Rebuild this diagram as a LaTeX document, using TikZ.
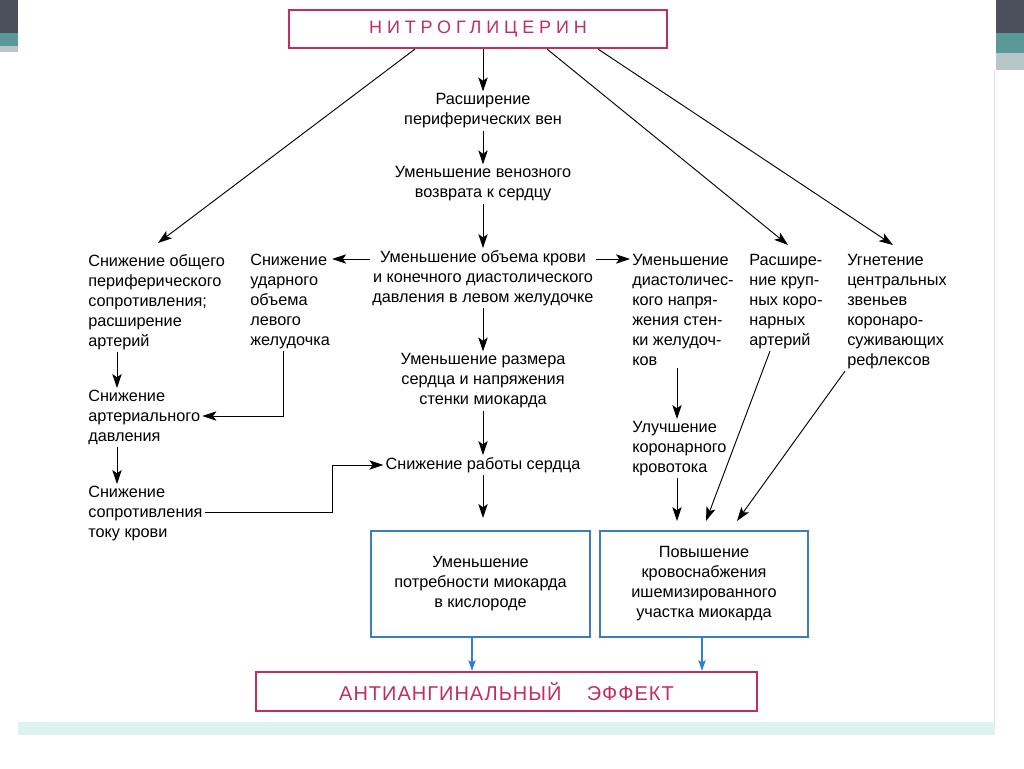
\documentclass[tikz,border=0pt]{standalone}
\usepackage{fontspec}
\setmainfont{Liberation Sans}
\usetikzlibrary{arrows.meta,calc}
\definecolor{crim}{HTML}{C42D62}
\definecolor{boxblue}{HTML}{3B7DC4}
\definecolor{arrblue}{HTML}{2E80D2}
\definecolor{decdark}{HTML}{4B505C}
\definecolor{decteal}{HTML}{5B9898}
\definecolor{declight}{HTML}{B8C6C8}
\definecolor{barcyan}{HTML}{DDF3F0}
\begin{document}
\begin{tikzpicture}[x=0.75pt,y=-0.75pt,
  font=\fontsize{12.2}{15}\selectfont,
  arr/.style={-{Stealth[length=10.5pt,width=7pt,inset=2.5pt]}, line width=0.7pt},
  barr/.style={-{Stealth[length=8pt,width=5.5pt,inset=1.5pt]}, line width=0.9pt, draw=arrblue, color=arrblue},
  ctext/.style={align=center, inner sep=1.5pt},
  ltext/.style={align=left, anchor=north west, inner sep=1.5pt},
  redbox/.style={draw=crim, line width=1.6pt, text=crim, inner sep=0pt},
  bluebox/.style={draw=boxblue, line width=1.4pt, align=center, inner sep=0pt}]
\useasboundingbox (0,0) rectangle (1024,768);
% slide decorations
\fill[white] (0,0) rectangle (1024,768);
\fill[decdark] (0,0) rectangle (18,33);
\fill[decteal] (0,33) rectangle (18,46);
\fill[declight] (0,46) rectangle (18,52);
\fill[decdark] (996,0) rectangle (1024,33);
\fill[decteal] (996,33) rectangle (1024,53);
\fill[declight] (996,53) rectangle (1024,70);
\draw[gray!25, line width=0.4pt] (994,70) -- (994,735);
\fill[barcyan] (18,722) rectangle (995,735);

% nodes
\node[redbox, minimum width=284pt, minimum height=28.5pt] (nitro) at (478,29)
  {\fontsize{13.5}{15}\selectfont\addfontfeatures{LetterSpace=27}НИТРОГЛИЦЕРИН};
\node[ctext] (ven) at (483,111) {Расширение\\периферических вен};
\node[ctext] (vozv) at (483,184) {Уменьшение венозного\\возврата к сердцу};
\node[ctext] (obem) at (483,278) {Уменьшение объема крови\\и конечного диастолического\\давления в левом желудочке};
\node[ctext] (razm) at (483,381) {Уменьшение размера\\сердца и напряжения\\стенки миокарда};
\node[ctext] (rab) at (483,465) {Снижение работы сердца};

\node[ltext] (sopr) at (86,252) {Снижение общего\\периферического\\сопротивления;\\расширение\\артерий};
\node[ltext] (udar) at (248,252) {Снижение\\ударного\\объема\\левого\\желудочка};
\node[ltext] (ad) at (86,388) {Снижение\\артериального\\давления};
\node[ltext] (tok) at (86,484) {Снижение\\сопротивления\\току крови};
\node[ltext] (diast) at (630,252) {Уменьшение\\диастоличес-\\кого напря-\\жения стен-\\ки желудоч-\\ков};
\node[ltext] (krup) at (747,252) {Расшире-\\ние круп-\\ных коро-\\нарных\\артерий};
\node[ltext] (ugn) at (845,252) {Угнетение\\центральных\\звеньев\\коронаро-\\суживающих\\рефлексов};
\node[ltext] (ulu) at (630,419) {Улучшение\\коронарного\\кровотока};

\node[bluebox, minimum width=164pt, minimum height=79.5pt] (box1) at (480.5,584)
  {Уменьшение\\потребности миокарда\\в кислороде};
\node[bluebox, minimum width=156pt, minimum height=79.5pt] (box2) at (704,584)
  {Повышение\\кровоснабжения\\ишемизированного\\участка миокарда};
\node[redbox, minimum width=375.75pt, minimum height=29.25pt] (anti) at (506.5,691.5)
  {\fontsize{15}{17}\selectfont\addfontfeatures{LetterSpace=5}АНТИАНГИНАЛЬНЫЙ\hspace{19pt}ЭФФЕКТ};

% free arrow ends
\coordinate (t1) at (158,243);
\coordinate (t3) at (788,245);
\coordinate (t4) at (893,245);

% connectors
\draw[arr] ($(nitro.south)+(-63,0)$) -- (t1);
\draw[arr] (nitro.south -| ven.north) -- (ven.north);
\draw[arr] ($(nitro.south)+(69,0)$) -- (t3);
\draw[arr] ($(nitro.south)+(120,0)$) -- (t4);
\draw[arr] (ven) -- (vozv);
\draw[arr] (vozv) -- (obem);
\draw[arr] (obem.west |- 0,259) -- (udar.east |- 0,259);
\draw[arr] (obem.east |- 0,259) -- (diast.west |- 0,259);
\draw[arr] (obem) -- (razm);
\draw[arr] (razm) -- (rab);
\draw[arr] (rab.south) -- (rab.south |- 0,518);
\draw[arr] (sopr.south -| 117,0) -- (ad.north -| 117,0);
\draw[arr] (udar.south -| 283,0) |- (ad.east |- 0,416);
\draw[arr] (ad.south -| 117,0) -- (tok.north -| 117,0);
\draw[arr] (tok.east |- 0,512) -- (332,512) |- (rab.west);
\draw[arr] (diast.south -| 677,0) -- (ulu.north -| 677,0);
\draw[arr] (ulu.south -| 677,0) -- (677,521);
\draw[arr] (krup.south -| 770,0) -- (706,521);
\draw[arr] (ugn.south -| 845,0) -- (737,521);
\draw[barr] (box1.south -| 472,0) -- (anti.north -| 472,0);
\draw[barr] (box2.south -| 702,0) -- (anti.north -| 702,0);
\end{tikzpicture}
\end{document}
